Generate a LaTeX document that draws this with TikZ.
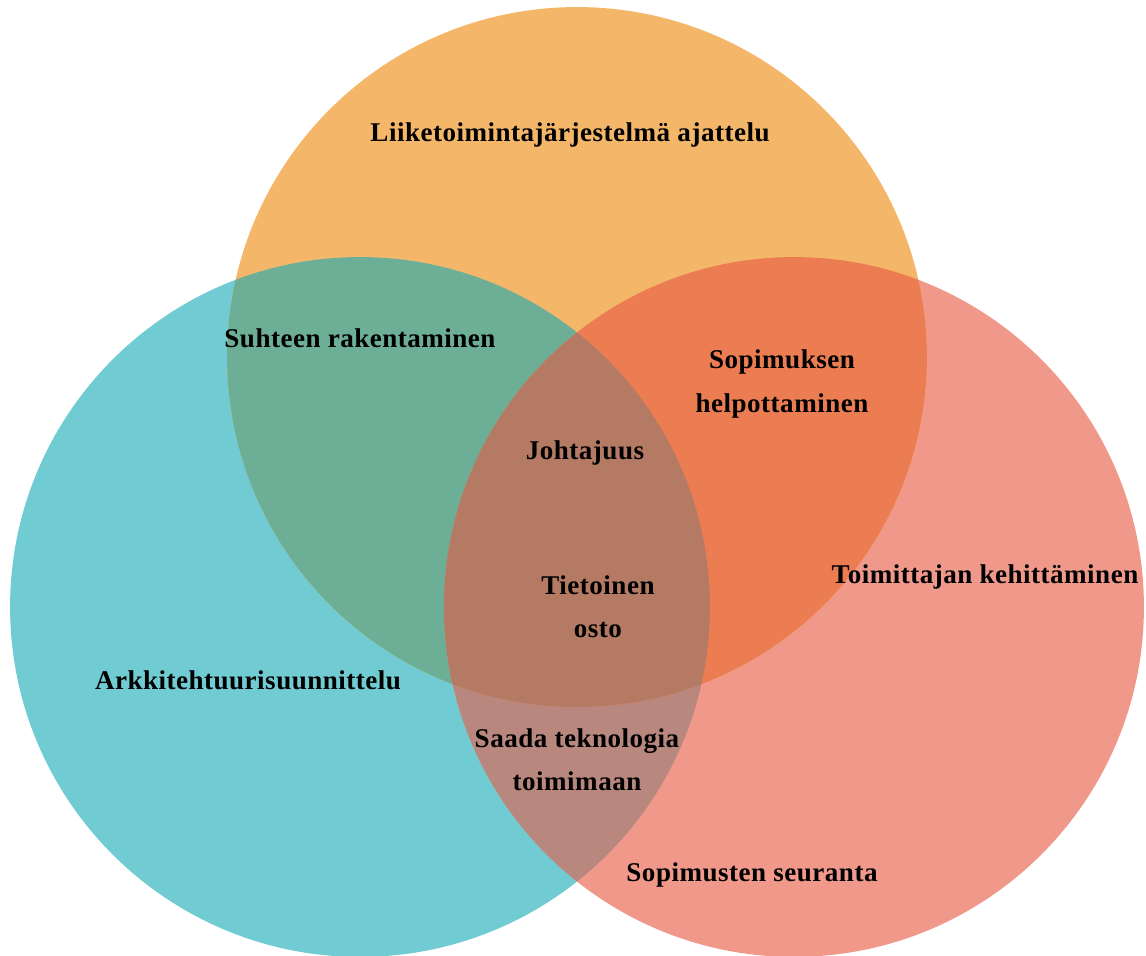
\documentclass[tikz,border=0pt]{standalone}
\usepackage{fontspec}
\setmainfont[LetterSpace=1.8]{Liberation Serif}
\definecolor{tealc}{HTML}{71CBD2}
\definecolor{pinkc}{HTML}{F0998B}
\definecolor{orangec}{HTML}{F4B76A}
\definecolor{tealorange}{HTML}{6DAE96}
\definecolor{orangepink}{HTML}{EC7D52}
\definecolor{tealpink}{HTML}{B8877E}
\definecolor{allthree}{HTML}{B47A64}

\begin{document}
\begin{tikzpicture}[
  x=0.02cm,y=-0.02cm,
  area/.style={font=\bfseries\fontsize{15.4}{24.5}\selectfont,align=center,text=black}
]

\useasboundingbox (0,0) rectangle (1146,956);

\coordinate (teal) at (360,607);
\coordinate (pink) at (794,607);
\coordinate (orange) at (577,357);

% base circles
\fill[tealc] (teal) circle (7cm);
\fill[pinkc] (pink) circle (7cm);
\fill[orangec] (orange) circle (7cm);

% overlaps
\begin{scope}
\clip (teal) circle (7cm);
\fill[tealorange] (orange) circle (7cm);
\fill[tealpink] (pink) circle (7cm);
\end{scope}
\begin{scope}
\clip (orange) circle (7cm);
\fill[orangepink] (pink) circle (7cm);
\end{scope}
\begin{scope}
\clip (teal) circle (7cm);
\clip (pink) circle (7cm);
\fill[allthree] (orange) circle (7cm);
\end{scope}

% labels
\node[area] (liike) at (570,135) {Liiketoimintajärjestelmä ajattelu};
\node[area] (suhde) at (360,338) {Suhteen rakentaminen};
\node[area] (sopimus) at (782,384) {Sopimuksen\\helpottaminen};
\node[area] (johto) at (585,453) {Johtajuus};
\node[area] (tieto) at (598,607) {Tietoinen\\osto};
\node[area] (toimittaja) at (985,577) {Toimittajan kehittäminen};
\node[area] (arkki) at (248,680) {Arkkitehtuurisuunnittelu};
\node[area] (saada) at (577,760) {Saada teknologia\\toimimaan};
\node[area] (seuranta) at (752,875) {Sopimusten seuranta};

\end{tikzpicture}
\end{document}
